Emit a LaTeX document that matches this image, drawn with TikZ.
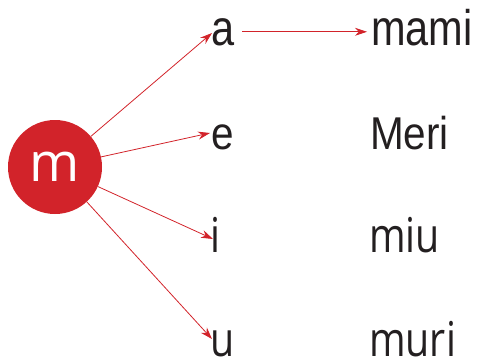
\documentclass[tikz,border=0pt]{standalone}
\usepackage{fontspec}
\usetikzlibrary{arrows.meta}
\newfontfamily\arialf{Liberation Sans}[FakeStretch=0.88]
\newfontfamily\arialtop{Liberation Sans}[FakeStretch=0.83]
\newfontfamily\myriadf{Open Sans}[FakeStretch=0.82]
\newfontfamily\circf{Open Sans}
\definecolor{mred}{RGB}{210,35,42}
\definecolor{ink}{RGB}{35,31,32}
\tikzset{
  arr/.style={draw=mred, line width=0.8pt, -{Stealth[length=12pt,width=8pt]}},
  lbl/.style={anchor=base west, inner sep=0pt, text=ink},
}
\begin{document}
\begin{tikzpicture}[x=1pt,y=1pt]
\useasboundingbox (0,0) rectangle (478,-359);
\node[circle, fill=mred, minimum size=94pt, inner sep=0pt, text=white,
  font=\circf\fontsize{54}{54}\selectfont] (m) at (55,-167) {m};
\node[lbl, font=\arialtop\fontsize{50}{50}\selectfont] (a) at (211,-45) {a};
\node[lbl, font=\arialtop\fontsize{50}{50}\selectfont] (mami) at (371,-45) {mami};
\node[lbl, font=\arialf\fontsize{46}{46}\selectfont] (e) at (211,-149) {e};
\node[lbl, font=\arialf\fontsize{46}{46}\selectfont] (meri) at (370,-149) {Meri};
\node[lbl, font=\myriadf\fontsize{48}{48}\selectfont] (i) at (210,-252) {i};
\node[lbl, font=\myriadf\fontsize{48}{48}\selectfont] (miu) at (369,-252) {miu};
\node[lbl, font=\myriadf\fontsize{48}{48}\selectfont] (u) at (210,-356) {u};
\node[lbl, font=\myriadf\fontsize{48}{48}\selectfont] (muri) at (369,-356) {muri};
\coordinate (ta) at (212,-33);
\coordinate (te) at (210,-133);
\coordinate (ti) at (213,-239);
\coordinate (tu) at (212,-339);
\draw[arr] (m) -- (ta);
\draw[arr] (m) -- (te);
\draw[arr] (m) -- (ti);
\draw[arr] (m) -- (tu);
\draw[arr, shorten <=8pt, shorten >=4pt] (a.east) -- (a.east -| mami.west);
\end{tikzpicture}
\end{document}
